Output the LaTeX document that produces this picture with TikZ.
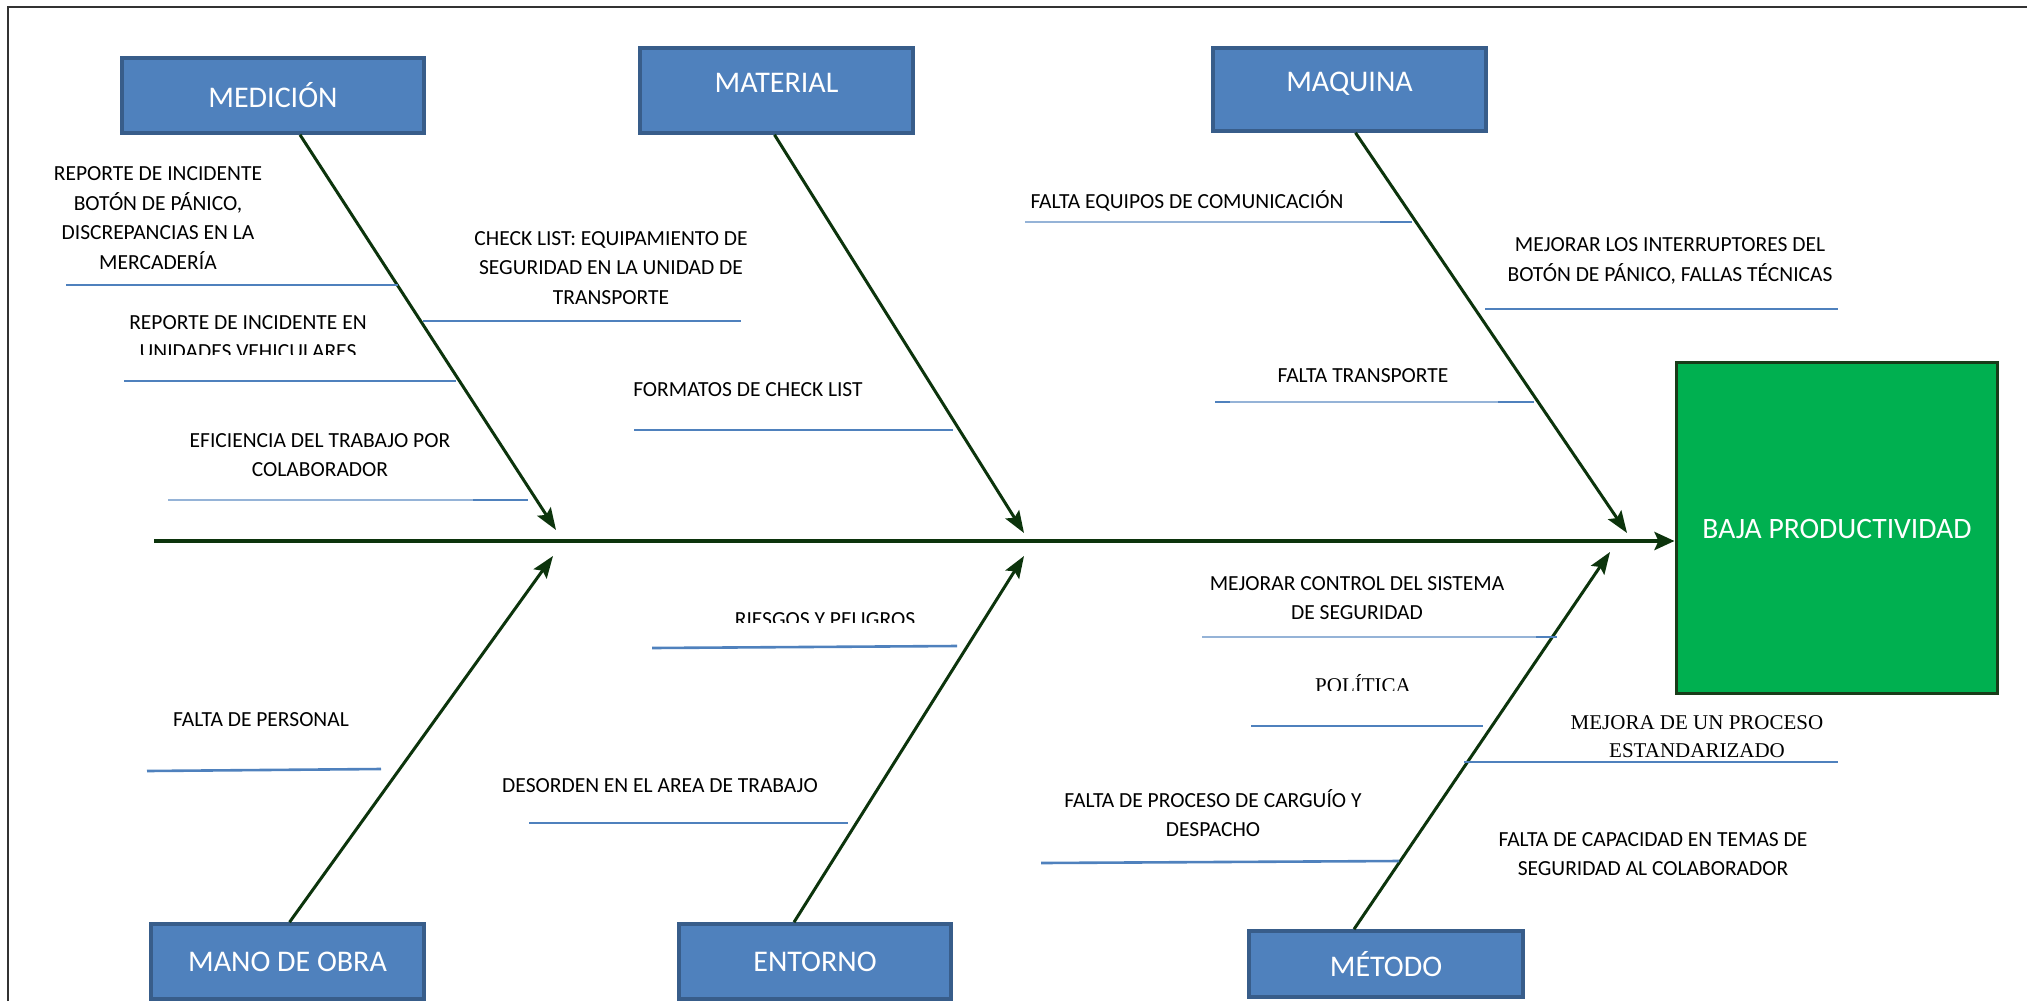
\documentclass[tikz,border=0pt]{standalone}
\usepackage{fontspec}
\setmainfont{Carlito}
\newfontfamily\serifrm{Liberation Serif}
\usetikzlibrary{arrows.meta}
\definecolor{boxblue}{HTML}{4F81BD}
\definecolor{boxedge}{HTML}{385D8A}
\definecolor{bonegreen}{RGB}{12,52,12}
\definecolor{effgreen}{HTML}{00B050}
\definecolor{effedge}{RGB}{25,60,25}
\definecolor{riblight}{HTML}{95B3D7}
\tikzset{catbox/.style={rectangle,fill=boxblue,draw=boxedge,line width=1.8pt,text=white,font=\fontsize{15}{18}\selectfont,inner sep=0pt}}
\tikzset{effbox/.style={rectangle,fill=effgreen,draw=effedge,line width=1.5pt,inner sep=0pt}}
\tikzset{bone/.style={line width=1.5pt,draw=bonegreen,-{Stealth[length=11pt,width=8pt,inset=2pt]}}}
\tikzset{spine/.style={line width=2pt,draw=bonegreen,-{Stealth[length=10pt,width=9pt,inset=2pt]}}}
\tikzset{rib/.style={line width=1.3pt,draw=boxblue}}
\tikzset{ribthin/.style={line width=0.7pt,draw=riblight}}
\tikzset{cause/.style={align=center,inner sep=0pt,font=\fontsize{10.75}{14.75}\selectfont}}
\tikzset{causeserif/.style={align=center,inner sep=0pt,font=\serifrm\fontsize{10.5}{14}\selectfont}}

\begin{document}
\begin{tikzpicture}[x=0.5pt,y=-0.5pt]
	\useasboundingbox (0,0) rectangle (2027,1001);
	% frame
	\draw[line width=1pt,black!80] (8,1001) -- (8,7) -- (2027,7);
	% the effect
	\node[effbox,minimum width=160.5pt,minimum height=165.5pt] (baja) at (1836.5,527.5) {};
	\node[white,font=\fontsize{14.8}{18}\selectfont] (bajatxt) at (1837,529) {BAJA PRODUCTIVIDAD};
	% the category boxes
	\node[catbox,minimum width=151pt,minimum height=37.5pt] (medicion) at (273,95.5) {MEDICIÓN};
	\node[catbox,minimum width=136.5pt,minimum height=42.5pt,text depth=8pt] (material) at (776.5,90.5) {MATERIAL};
	\node[catbox,minimum width=136.5pt,minimum height=41.5pt,text depth=8pt] (maquina) at (1349.5,89.5) {MAQUINA};
	\node[catbox,minimum width=136.5pt,minimum height=37.5pt] (manoobra) at (287.5,961.5) {MANO DE OBRA};
	\node[catbox,minimum width=136pt,minimum height=37.5pt] (entorno) at (815,961.5) {ENTORNO};
	\node[catbox,minimum width=137pt,minimum height=33pt] (metodo) at (1386,964) {MÉTODO};
	% draw the spine
	\coordinate (spineL) at (154,541);
	\draw[spine] (spineL) -- (spineL -| baja.west);
	% draw the bones
	\coordinate (tipMed) at (556,530);
	\coordinate (tipMat) at (1024,533);
	\coordinate (tipMaq) at (1627,533);
	\coordinate (tipMan) at (553,556);
	\coordinate (tipEnt) at (1024,556);
	\coordinate (tipMet) at (1610,552);
	\draw[bone] ([xshift=13.5pt]medicion.south) -- (tipMed);
	\draw[bone] ([xshift=-1pt]material.south) -- (tipMat);
	\draw[bone] ([xshift=3pt]maquina.south) -- (tipMaq);
	\draw[bone] ([xshift=1pt]manoobra.north) -- (tipMan);
	\draw[bone] ([xshift=-10.5pt]entorno.north) -- (tipEnt);
	\draw[bone] ([xshift=-16pt]metodo.north) -- (tipMet);
	% ribs of medicion
	\draw[rib] (66,285) -- (398,285);
	\draw[rib] (423,321) -- (741,321);
	\draw[rib] (124,381) -- (456,381);
	\draw[rib] (634,430) -- (953,430);
	\draw[ribthin] (168,500) -- (473,500);
	\draw[rib] (473,500) -- (528,500);
	% ribs of maquina
	\draw[ribthin] (1025,222) -- (1380,222);
	\draw[rib] (1380,222) -- (1412,222);
	\draw[rib] (1485,309) -- (1838,309);
	\draw[ribthin] (1215,402) -- (1534,402);
	\draw[rib] (1215,402) -- (1230,402);
	\draw[rib] (1498,402) -- (1534,402);
	% ribs of the lower side
	\draw[rib] (147,771) -- (381,769);
	\draw[rib] (652,648) -- (957,646);
	\draw[rib] (529,823) -- (848,823);
	\draw[ribthin] (1202,637) -- (1536,637);
	\draw[rib] (1536,637) -- (1557,637);
	\draw[rib] (1251,726) -- (1483,726);
	\draw[rib] (1464,762) -- (1838,762);
	\draw[rib] (1041,863) -- (1399,861);
	% causes
	\node[cause] (c1) at (158,218) {REPORTE DE INCIDENTE\\BOTÓN DE PÁNICO,\\DISCREPANCIAS EN LA\\MERCADERÍA};
	\node[cause] (c2) at (611,268) {CHECK LIST: EQUIPAMIENTO DE\\SEGURIDAD EN LA UNIDAD DE\\TRANSPORTE};
	\begin{scope}
		\clip (0,300) rectangle (700,354);
		\node[cause] (c3) at (248,337) {REPORTE DE INCIDENTE EN\\UNIDADES VEHICULARES};
	\end{scope}
	\node[cause] (c4) at (748,390) {FORMATOS DE CHECK LIST};
	\node[cause] (c5) at (320,455) {EFICIENCIA DEL TRABAJO POR\\COLABORADOR};
	\node[cause] (c6) at (1187,201) {FALTA EQUIPOS DE COMUNICACIÓN};
	\node[cause] (c7) at (1670,261) {MEJORAR LOS INTERRUPTORES DEL\\BOTÓN DE PÁNICO, FALLAS TÉCNICAS};
	\node[cause] (c8) at (1363,376) {FALTA TRANSPORTE};
	\node[cause] (c9) at (261,720) {FALTA DE PERSONAL};
	\begin{scope}
		\clip (600,580) rectangle (1000,622);
		\node[cause] (c10) at (825,620) {RIESGOS Y PELIGROS};
	\end{scope}
	\node[cause] (c11) at (660,786) {DESORDEN EN EL AREA DE TRABAJO};
	\node[cause] (c12) at (1357,598) {MEJORAR CONTROL DEL SISTEMA\\DE SEGURIDAD};
	\begin{scope}
		\clip (1250,660) rectangle (1480,690);
		\node[causeserif] (c13) at (1363,684) {POLÍTICA};
	\end{scope}
	\node[causeserif] (c14) at (1697,737) {MEJORA DE UN PROCESO\\ESTANDARIZADO};
	\node[cause] (c15) at (1213,813) {FALTA DE PROCESO DE CARGUÍO Y\\DESPACHO};
	\node[cause] (c16) at (1653,854) {FALTA DE CAPACIDAD EN TEMAS DE\\SEGURIDAD AL COLABORADOR};
\end{tikzpicture}
\end{document}
